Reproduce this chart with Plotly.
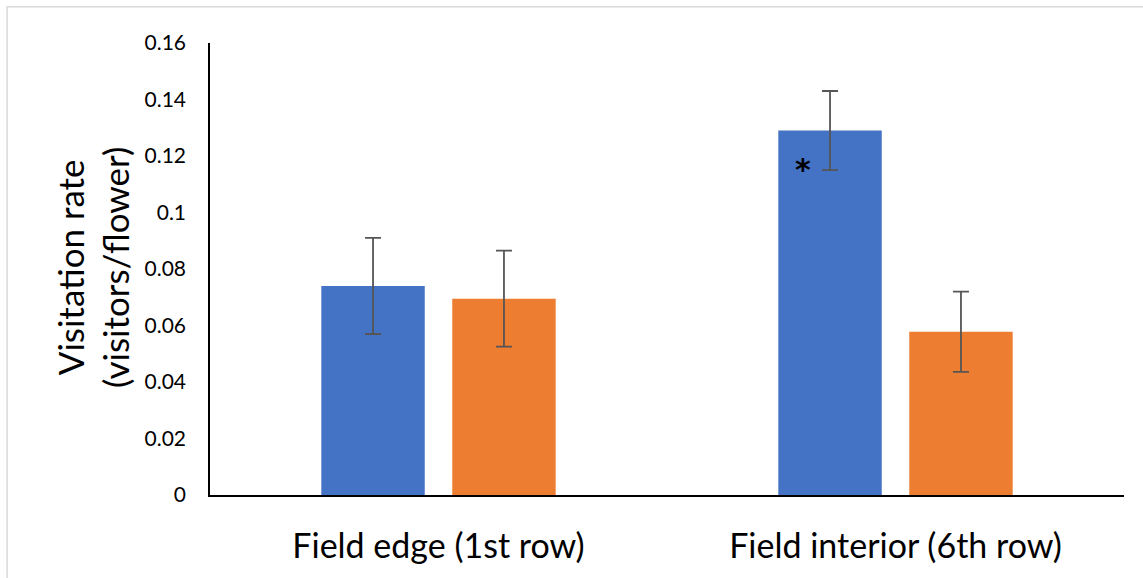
import plotly.graph_objects as go

# Visitation rate by field position, two treatment series
categories = ["Field edge (1st row)", "Field interior (6th row)"]
series_a = [0.074, 0.129]
series_a_err = [0.017, 0.014]
series_b = [0.0695, 0.0578]
series_b_err = [0.017, 0.0142]
y_ticks = [0, 0.02, 0.04, 0.06, 0.08, 0.1, 0.12, 0.14, 0.16]
y_tick_text = ["0", "0.02", "0.04", "0.06", "0.08", "0.1", "0.12", "0.14", "0.16"]

BLUE = "#4472C4"
ORANGE = "#ED7D31"
ERR = "#555555"
FONT = "Lato"

fig = go.Figure()
fig.add_trace(go.Bar(
    x=categories, y=series_a, marker=dict(color=BLUE, line=dict(width=0)),
    error_y=dict(type="data", array=series_a_err, color=ERR, thickness=1.8, width=8),
    name="A",
))
fig.add_trace(go.Bar(
    x=categories, y=series_b, marker=dict(color=ORANGE, line=dict(width=0)),
    error_y=dict(type="data", array=series_b_err, color=ERR, thickness=1.8, width=8),
    name="B",
))

# significance marker on the interior bar
fig.add_annotation(
    x=categories[1], y=0.118, xref="x", yref="y",
    text="<b>*</b>", showarrow=False, xshift=-93, yshift=-8,
    font=dict(family="DejaVu Sans", size=30, color="black"),
)

# two-line y-axis title
fig.add_annotation(
    x=-0.128, y=0.502, xref="paper", yref="paper",
    text="Visitation rate<br>(visitors/flower)", textangle=-90, showarrow=False,
    xanchor="center", yanchor="middle",
    font=dict(family=FONT, size=35, color="black"),
)

# light outer frame
fig.add_shape(
    type="rect", xref="paper", yref="paper",
    x0=-0.222, x1=1.2, y0=-0.3, y1=1.08,
    line=dict(color="#D9D9D9", width=1.5), fillcolor="rgba(0,0,0,0)", layer="below",
)

fig.update_layout(
    width=1143, height=578,
    margin=dict(l=210, r=19, t=43, b=83),
    paper_bgcolor="white", plot_bgcolor="white",
    barmode="group", bargap=0.427, bargroupgap=0.21,
    showlegend=False,
    font=dict(family=FONT, color="black"),
)
fig.update_xaxes(
    showline=True, linecolor="black", linewidth=2, ticks="",
    tickfont=dict(family=FONT, size=34, color="black"),
    ticklabelstandoff=20, showgrid=False,
)
fig.update_yaxes(
    range=[0, 0.16], tickvals=y_ticks, ticktext=y_tick_text,
    showline=True, linecolor="black", linewidth=1.5, ticks="",
    tickfont=dict(family=FONT, size=21, color="black"),
    ticklabelstandoff=18, showgrid=False, zeroline=False,
)

fig.write_html("out.html")
